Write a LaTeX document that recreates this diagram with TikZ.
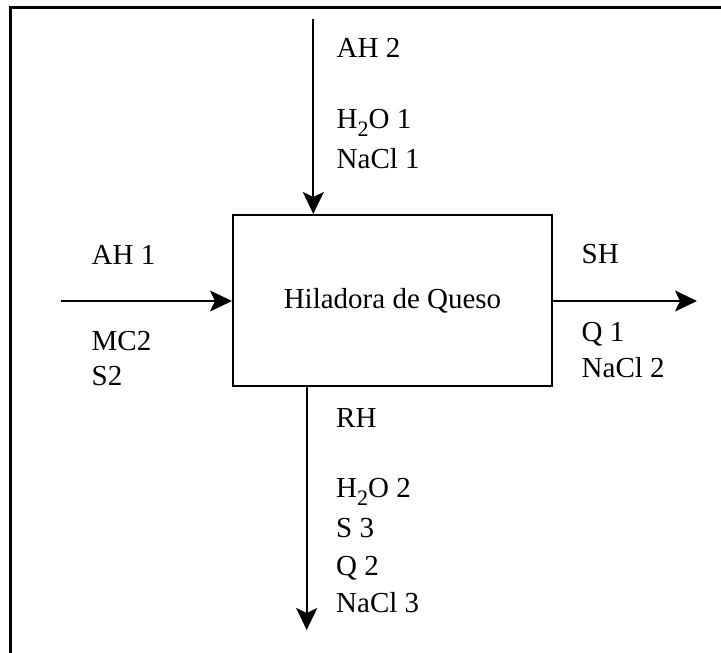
\documentclass[tikz,border=0pt]{standalone}
\usepackage{fontspec}
\setmainfont{Liberation Serif}
\usetikzlibrary{arrows.meta}
\newcommand{\lowtwo}{\raisebox{-8pt}{\fontsize{22}{22}\selectfont 2}}
\begin{document}
\begin{tikzpicture}[x=1pt,y=-1pt,
  flow/.style={line width=2pt,-{Stealth[length=22pt,width=21pt,inset=5pt]}},
  lbl/.style={anchor=base west,inner sep=0pt,font=\fontsize{29}{34}\selectfont},
  unit/.style={draw,line width=2pt,minimum width=319pt,minimum height=171pt,
    inner sep=0pt,font=\fontsize{29}{34}\selectfont}]
  \useasboundingbox (0,0) rectangle (721,653);
  % page frame
  \draw[line width=3pt] (10,653) -- (10,7) -- (721,7);
  % process unit
  \node[unit] (box) at (392.5,300.5) {Hiladora de Queso};
  % stream end points
  \coordinate (topin) at (313.3,19);
  \coordinate (leftin) at (61,301);
  \coordinate (rightout) at (697,301);
  \coordinate (botout) at (306.7,630);
  % streams
  \draw[flow] (topin) -- (topin |- box.north);
  \draw[flow] (leftin) -- (leftin -| box.west);
  \draw[flow] (rightout -| box.east) -- (rightout);
  \draw[flow] (botout |- box.south) -- (botout);
  % top stream labels
  \node[lbl] (ah2) at (336.5,57.5) {AH 2};
  \node[lbl] (h2o1) at (336.5,128) {H\lowtwo O 1};
  \node[lbl] (nacl1) at (336.5,168) {NaCl 1};
  % left stream labels
  \node[lbl] (ah1) at (91.5,264) {AH 1};
  \node[lbl] (mc2) at (91.5,350) {MC2};
  \node[lbl] (s2) at (91.5,385) {S2};
  % right stream labels
  \node[lbl] (sh) at (581.5,263) {SH};
  \node[lbl] (q1) at (581.5,341) {Q 1};
  \node[lbl] (nacl2) at (581.5,377.5) {NaCl 2};
  % bottom stream labels
  \node[lbl] (rh) at (336,427) {RH};
  \node[lbl] (h2o2) at (336,497.5) {H\lowtwo O 2};
  \node[lbl] (s3) at (336,537) {S 3};
  \node[lbl] (q2) at (336,575) {Q 2};
  \node[lbl] (nacl3) at (336,612) {NaCl 3};
\end{tikzpicture}
\end{document}
